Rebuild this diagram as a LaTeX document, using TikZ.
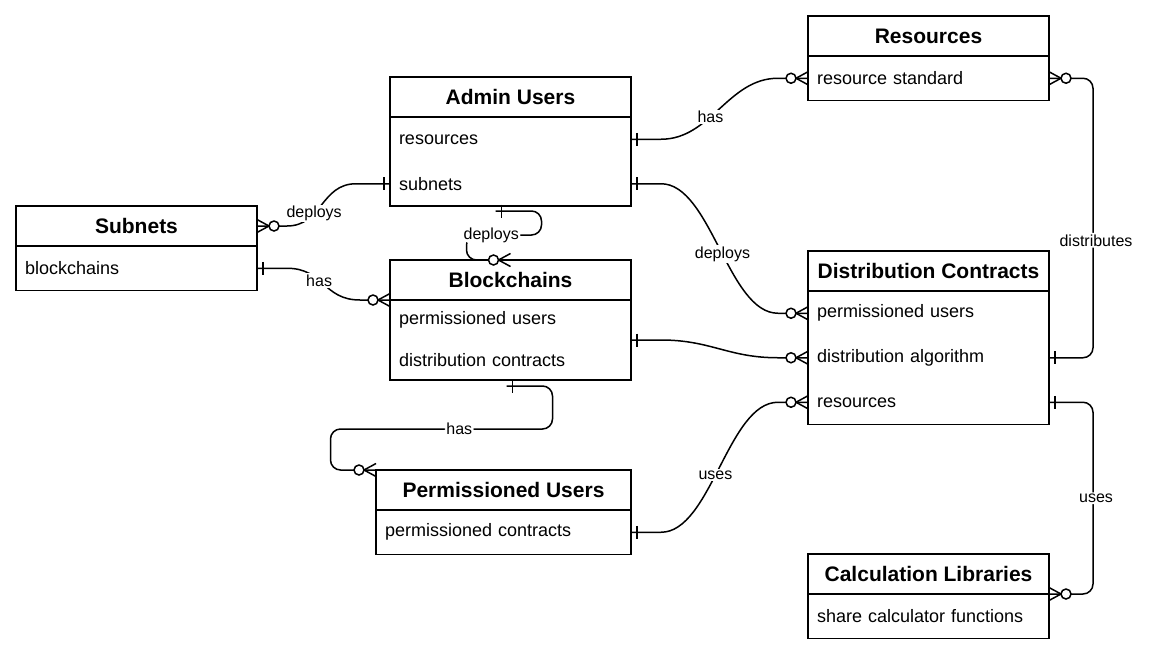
\documentclass[tikz,border=0pt]{standalone}
\usepackage{fontspec}
\setmainfont{Liberation Sans}
\usetikzlibrary{positioning}
\usetikzlibrary{calc}

\newcommand{\hdrfont}{\bfseries\fontsize{21}{25}\selectfont}
\newcommand{\fldfont}{\fontsize{18}{22}\selectfont}
\newcommand{\lblfont}{\fontsize{16}{19}\selectfont}

\tikzset{
	onemark/.pic={\draw (-6,-6.5) -- (-6,6.5);},
	manymark/.pic={\draw (0,-6.5) -- (-12,0) -- (0,6.5); \draw[fill=white] (-17,0) circle (5pt);}
}

\begin{document}
\begin{tikzpicture}[x=1pt,y=-1pt,line width=1.5pt,
	entity/.style={rectangle,draw,minimum width=241pt,minimum height=40pt,inner sep=0pt,outer sep=0pt,font=\hdrfont},
	field/.style={rectangle,text width=223pt,inner xsep=9pt,inner ysep=0pt,outer sep=0pt,minimum height=44.5pt,align=left,font=\fldfont},
	loop/.style={rounded corners=10pt},
	lbl/.style={fill=white,inner sep=1.5pt,font=\lblfont}]
	
	\useasboundingbox (0,0) rectangle (1151,659);
	
	% entities
	\node[entity,anchor=north west] (res) at (808,16) {Resources};
	\node[field,below=0pt of res] (res-std) {resource standard};
	\draw (res.south west) rectangle (res-std.south east);
	
	\node[entity,anchor=north west] (adm) at (390,77) {Admin Users};
	\node[field,below=0pt of adm] (adm-res) {resources};
	\node[field,below=0pt of adm-res] (adm-sub) {subnets};
	\draw (adm.south west) rectangle (adm-sub.south east);
	
	\node[entity,anchor=north west] (sub) at (16,206) {Subnets};
	\node[field,below=0pt of sub] (sub-bc) {blockchains};
	\draw (sub.south west) rectangle (sub-bc.south east);
	
	\node[entity,anchor=north west] (blk) at (390,260) {Blockchains};
	\node[field,below=0pt of blk,minimum height=40pt] (blk-pu) {permissioned users};
	\node[field,below=0pt of blk-pu,minimum height=40pt] (blk-dc) {distribution contracts};
	\draw (blk.south west) rectangle (blk-dc.south east);
	
	\node[entity,anchor=north west] (dc) at (808,251) {Distribution Contracts};
	\node[field,below=0pt of dc] (dc-pu) {permissioned users};
	\node[field,below=0pt of dc-pu] (dc-alg) {distribution algorithm};
	\node[field,below=0pt of dc-alg] (dc-res) {resources};
	\draw (dc.south west) rectangle (dc-res.south east);
	
	\node[entity,anchor=north west,minimum width=255pt] (pu) at (376,470) {Permissioned Users};
	\node[field,below=0pt of pu,text width=237pt] (pu-pc) {permissioned contracts};
	\draw (pu.south west) rectangle (pu-pc.south east);
	
	\node[entity,anchor=north west] (cl) at (808,554) {Calculation Libraries};
	\node[field,below=0pt of cl] (cl-sc) {share calculator functions};
	\draw (cl.south west) rectangle (cl-sc.south east);
	
	% relations
	\draw (adm-res.east) -- ++(30,0) .. controls +(50,0) and +(-50,0) .. ($(res-std.west)+(-30,0)$) node[lbl,pos=.41] {has} -- (res-std.west);
	\draw (adm-sub.west) -- ++(-34,0) .. controls +(-35,0) and +(35,0) .. ($(sub.east)+(30,0)$) node[lbl,pos=.64] {deploys} -- (sub.east);
	\draw[loop] ($(adm-sub.south)+(-15,5)$) -- ++(46,0) -- ++(0,24) -- ++(-75,0) node[lbl,pos=.67] {deploys} -- ++(0,25) -- (blk.north);
	\draw (sub-bc.east) -- ++(30,0) .. controls +(37,0) and +(-37,0) .. ($(blk.south west)+(-30,0)$) node[lbl,pos=.42] {has} -- (blk.south west);
	\draw (adm-sub.east) -- ++(30,0) .. controls +(50,0) and +(-50,0) .. ($(dc-pu.west)+(-30,0)$) node[lbl,pos=.53] {deploys} -- (dc-pu.west);
	\draw (blk-pu.south east) -- ++(30,0) .. controls +(50,0) and +(-50,0) .. ($(dc-alg.west)+(-30,0)$) -- (dc-alg.west);
	\draw[loop] ($(blk-dc.south)+(-4,6)$) -- ++(46,0) -- ++(0,43) -- ++(-222,0) node[lbl,pos=.42] {has} -- ++(0,41) -- (pu.north west);
	\draw (pu-pc.east) -- ++(30,0) .. controls +(50,0) and +(-50,0) .. ($(dc-res.west)+(-30,0)$) node[lbl,pos=.46] {uses} -- (dc-res.west);
	\draw[loop] (res-std.east) -- ++(44,0) |- (dc-alg.east) node[lbl,pos=.29,xshift=3pt] {distributes};
	\draw[loop] (dc-res.east) -- ++(44,0) |- (cl.south east) node[lbl,pos=.25,xshift=3pt] {uses};
	
	% ends
	\pic[xscale=-1] at (adm-res.east) {onemark};
	\pic at (res-std.west) {manymark};
	\pic at (adm-sub.west) {onemark};
	\pic[xscale=-1] at (sub.east) {manymark};
	\pic[xscale=-1] at ($(adm-sub.south)+(-15,5)$) {onemark};
	\pic at (blk.north) {manymark};
	\pic[xscale=-1] at (sub-bc.east) {onemark};
	\pic at (blk.south west) {manymark};
	\pic[xscale=-1] at (adm-sub.east) {onemark};
	\pic at (dc-pu.west) {manymark};
	\pic[xscale=-1] at (blk-pu.south east) {onemark};
	\pic at (dc-alg.west) {manymark};
	\pic[xscale=-1] at ($(blk-dc.south)+(-4,6)$) {onemark};
	\pic at (pu.north west) {manymark};
	\pic[xscale=-1] at (pu-pc.east) {onemark};
	\pic at (dc-res.west) {manymark};
	\pic[xscale=-1] at (res-std.east) {manymark};
	\pic[xscale=-1] at (dc-alg.east) {onemark};
	\pic[xscale=-1] at (dc-res.east) {onemark};
	\pic[xscale=-1] at (cl.south east) {manymark};
\end{tikzpicture}
\end{document}
